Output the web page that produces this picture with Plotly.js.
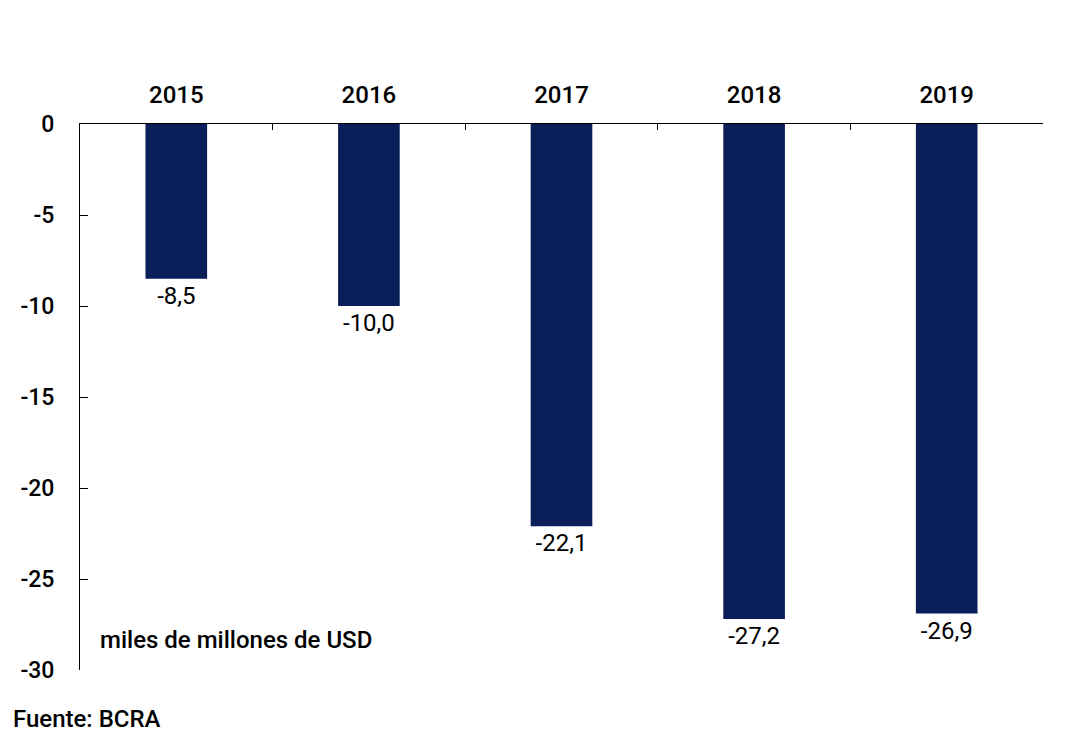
<!DOCTYPE html>
<html>
<head>
<meta charset="utf-8">
<script src="https://cdn.plot.ly/plotly-3.0.1.min.js"></script>
<style>html,body{margin:0;padding:0;background:#fff;}#chart{width:1077px;height:753px;}</style>
</head>
<body>
<div id="chart"></div>
<script>
var years = ['2015', '2016', '2017', '2018', '2019'];
var values = [-8.5, -10.0, -22.1, -27.2, -26.9];
var yTicks = [0, -5, -10, -15, -20, -25, -30];

var labels = values.map(function (v) { return v.toFixed(1).replace('.', ','); });

var trace = {
  type: 'bar',
  x: years,
  y: values,
  text: labels,
  textposition: 'outside',
  cliponaxis: false,
  textfont: { family: 'Roboto', size: 24, color: '#000' },
  marker: { color: '#0a1f5a' },
  width: 0.32,
  hoverinfo: 'skip'
};

var layout = {
  width: 1077,
  height: 753,
  margin: { l: 80, r: 34, t: 124, b: 83 },
  paper_bgcolor: '#fff',
  plot_bgcolor: '#fff',
  showlegend: false,
  separators: ',.',
  font: { family: 'Roboto', color: '#000' },
  xaxis: {
    type: 'category',
    side: 'top',
    showline: true,
    linecolor: '#000',
    linewidth: 1,
    ticks: 'inside',
    tickson: 'boundaries',
    ticklen: 6,
    tickcolor: '#000',
    showgrid: false,
    zeroline: false,
    ticklabelstandoff: 10,
    tickfont: { family: 'Roboto', size: 24, color: '#000', weight: 500 }
  },
  yaxis: {
    range: [-30, 0],
    tickvals: yTicks,
    ticktext: yTicks.map(String),
    showline: true,
    linecolor: '#000',
    linewidth: 1,
    ticks: 'inside',
    ticklen: 8,
    tickcolor: '#000',
    showgrid: false,
    zeroline: false,
    ticklabelstandoff: 20,
    tickfont: { family: 'Roboto', size: 23, color: '#000', weight: 500 }
  },
  annotations: [
    {
      text: 'miles de millones de USD',
      xref: 'paper', yref: 'paper',
      x: (98 - 80) / 963, y: (670 - 640) / 546,
      xanchor: 'left', yanchor: 'middle',
      showarrow: false,
      font: { family: 'Roboto', size: 24, color: '#000', weight: 500 }
    },
    {
      text: 'Fuente: BCRA',
      xref: 'paper', yref: 'paper',
      x: (11 - 80) / 963, y: (670 - 719) / 546,
      xanchor: 'left', yanchor: 'middle',
      showarrow: false,
      font: { family: 'Roboto', size: 24, color: '#000', weight: 500 }
    }
  ]
};

Plotly.newPlot('chart', [trace], layout, { displayModeBar: false, staticPlot: true });
</script>
</body>
</html>
